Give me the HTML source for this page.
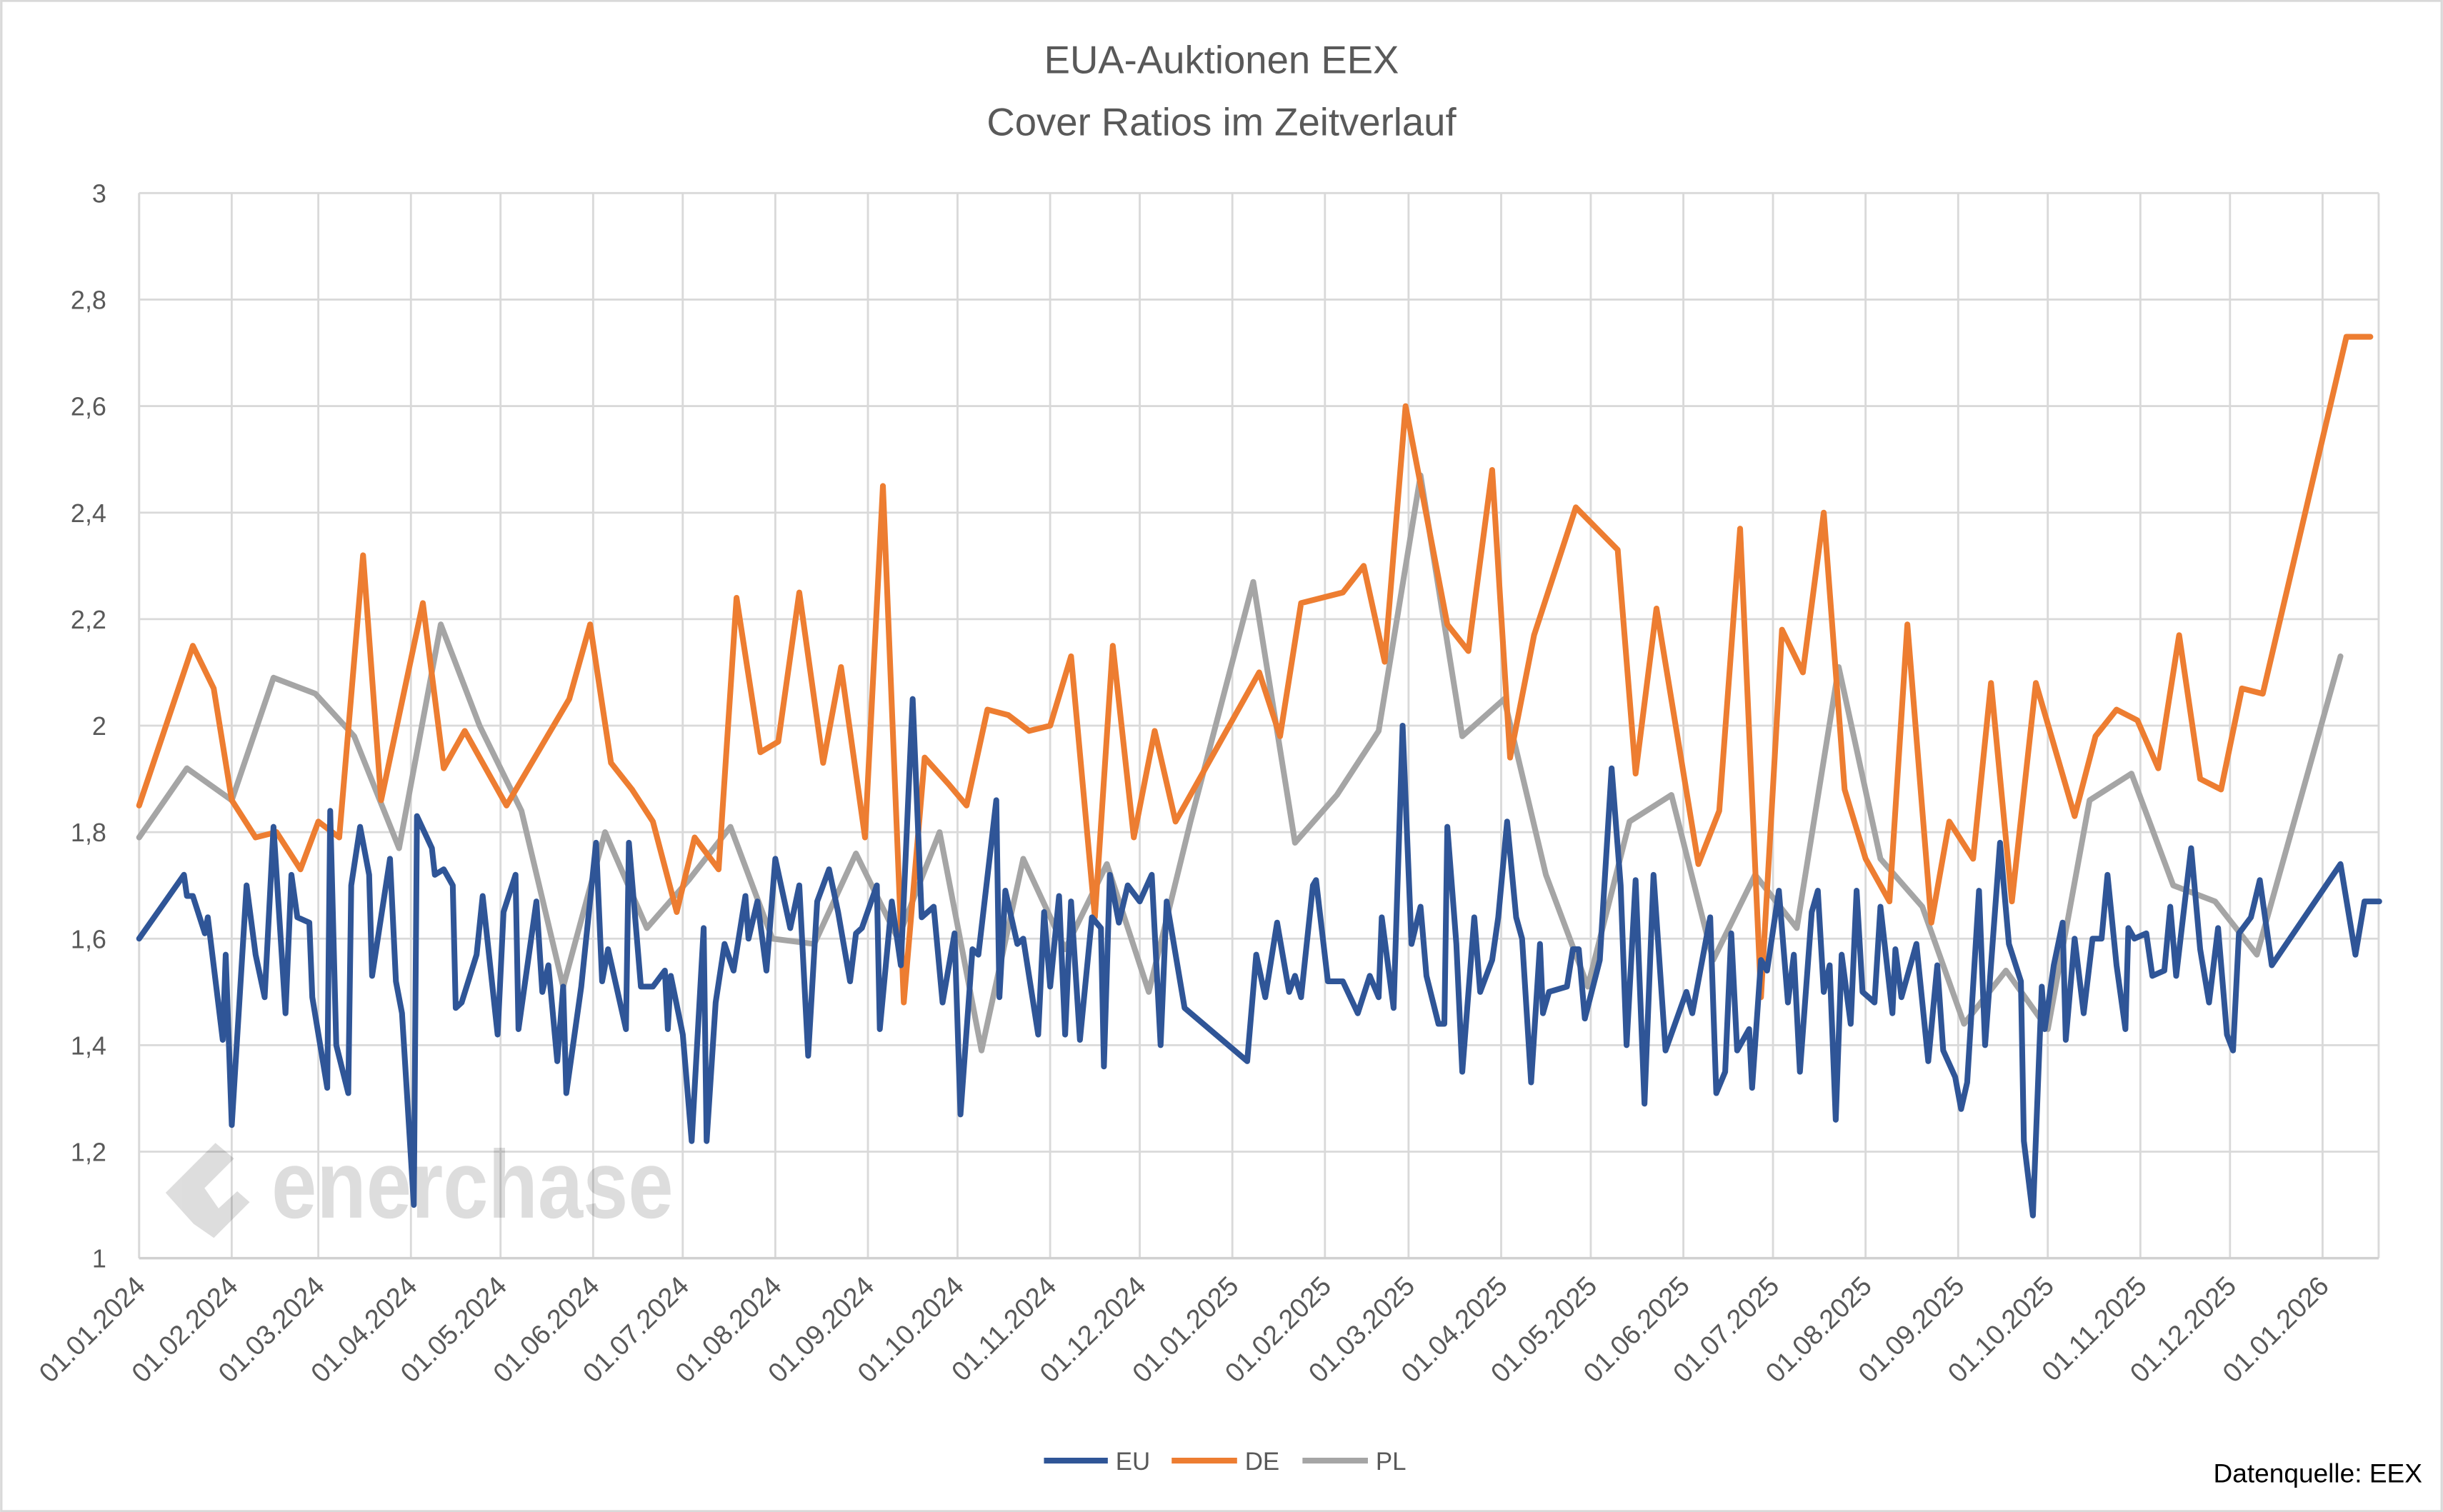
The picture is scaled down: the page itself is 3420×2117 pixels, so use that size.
<!DOCTYPE html>
<html><head><meta charset="utf-8">
<style>
html,body{margin:0;padding:0;background:#fff;}
svg{display:block;font-family:"Liberation Sans",sans-serif;}
</style></head>
<body>
<svg id="chart" width="3420" height="2117" viewBox="0 0 1568 971" xmlns="http://www.w3.org/2000/svg">
<rect x="0.5" y="0.5" width="1567" height="970" fill="#fff" stroke="#d9d9d9" stroke-width="1.5"/>
<text x="784" y="47" text-anchor="middle" font-size="25" fill="#595959">EUA-Auktionen EEX</text>
<text x="784" y="87" text-anchor="middle" font-size="25" fill="#595959">Cover Ratios im Zeitverlauf</text>
<g id="grid"></g>
<g id="watermark" opacity="0.13">
<path d="M124 786 L106 766 L138 734 L150 744 L131 763 L140 776 L152 765 L160 772 L137 795 Z" fill="#000"/>
<text x="174" y="782" font-size="62" font-weight="bold" fill="#000" textLength="258" lengthAdjust="spacingAndGlyphs">enerchase</text>
</g>
<g id="series"></g>
<g id="axes"></g>
<g>
<line x1="670" y1="938" x2="711" y2="938" stroke="#2f5597" stroke-width="3.7"/>
<text x="716" y="944" font-size="16" fill="#595959">EU</text>
<line x1="752" y1="938" x2="794" y2="938" stroke="#ed7d31" stroke-width="3.7"/>
<text x="799" y="944" font-size="16" fill="#595959">DE</text>
<line x1="836" y1="938" x2="878" y2="938" stroke="#a5a5a5" stroke-width="3.7"/>
<text x="883" y="944" font-size="16" fill="#595959">PL</text>
</g>
<text x="1555" y="952" text-anchor="end" font-size="17" fill="#000">Datenquelle: EEX</text>
</svg>
<script>
// days since 01.01.2024
const yTicks = [1,1.2,1.4,1.6,1.8,2,2.2,2.4,2.6,2.8,3];
const yTickLabels = ["1","1,2","1,4","1,6","1,8","2","2,2","2,4","2,6","2,8","3"];
const monthLabels = ["01.01.2024","01.02.2024","01.03.2024","01.04.2024","01.05.2024","01.06.2024","01.07.2024","01.08.2024","01.09.2024","01.10.2024","01.11.2024","01.12.2024","01.01.2025","01.02.2025","01.03.2025","01.04.2025","01.05.2025","01.06.2025","01.07.2025","01.08.2025","01.09.2025","01.10.2025","01.11.2025","01.12.2025","01.01.2026"];
const deDays = [0,18,25,31,39,46,54,60,67,75,81,95,102,109,123,144,151,158,165,172,180,186,194,200,208,214,221,229,235,243,249,256,263,271,277,284,291,298,305,312,320,326,333,340,347,375,382,389,403,410,417,424,438,445,453,459,467,481,495,501,508,522,529,536,543,550,557,564,571,578,586,592,600,606,614,620,627,635,648,655,662,669,676,683,690,697,704,711,739,747];
const deValues = [1.85,2.15,2.07,1.86,1.79,1.80,1.73,1.82,1.79,2.32,1.86,2.23,1.92,1.99,1.85,2.05,2.19,1.93,1.88,1.82,1.65,1.79,1.73,2.24,1.95,1.97,2.25,1.93,2.11,1.79,2.45,1.48,1.94,1.89,1.85,2.03,2.02,1.99,2.00,2.13,1.64,2.15,1.79,1.99,1.82,2.10,1.98,2.23,2.25,2.30,2.12,2.60,2.19,2.14,2.48,1.94,2.17,2.41,2.33,1.91,2.22,1.74,1.84,2.37,1.49,2.18,2.10,2.40,1.88,1.75,1.67,2.19,1.63,1.82,1.75,2.08,1.67,2.08,1.83,1.98,2.03,2.01,1.92,2.17,1.90,1.88,2.07,2.06,2.73,2.73];
const plDays = [0,16,31,45,59,72,87,101,114,128,142,156,170,184,198,212,226,240,254,268,282,296,310,324,338,352,373,387,401,415,429,443,457,471,485,499,513,527,541,555,569,583,597,611,625,639,653,667,681,695,709,737];
const plValues = [1.79,1.92,1.86,2.09,2.06,1.98,1.77,2.19,2.00,1.84,1.51,1.80,1.62,1.71,1.81,1.60,1.59,1.76,1.60,1.80,1.39,1.75,1.58,1.74,1.50,1.82,2.27,1.78,1.87,1.99,2.47,1.98,2.05,1.72,1.51,1.82,1.87,1.56,1.72,1.62,2.11,1.75,1.66,1.44,1.54,1.43,1.86,1.91,1.70,1.67,1.57,2.13];
const euDays = [0,15,16,18,22,23,28,29,31,36,39,42,45,49,51,53,57,58,63,64,66,70,71,74,77,78,84,86,88,92,93,98,99,102,105,106,108,113,115,120,122,126,127,133,135,137,140,142,143,148,153,155,157,163,164,168,172,176,177,178,182,185,189,190,193,196,199,203,204,207,210,213,218,221,224,227,231,234,238,240,242,247,248,252,255,259,262,266,269,273,275,279,281,287,288,290,294,296,301,303,305,308,310,312,315,319,322,323,325,328,331,335,339,342,344,350,371,374,377,381,385,387,389,393,394,398,403,408,412,415,416,420,423,426,429,431,435,437,438,441,443,447,449,453,455,458,461,463,466,469,470,472,478,480,482,484,489,493,496,498,501,504,507,511,518,520,526,528,531,533,535,539,540,543,545,549,552,554,556,560,562,564,566,568,570,573,575,577,581,583,587,588,590,595,599,602,604,608,610,612,616,618,623,626,630,631,634,637,638,641,644,645,648,651,654,657,659,662,665,666,668,672,674,678,680,682,687,690,693,696,699,701,703,707,710,714,737,742,745,750];
const euValues = [1.60,1.72,1.68,1.68,1.61,1.64,1.41,1.57,1.25,1.70,1.57,1.49,1.81,1.46,1.72,1.64,1.63,1.49,1.32,1.84,1.40,1.31,1.70,1.81,1.72,1.53,1.75,1.52,1.46,1.10,1.83,1.77,1.72,1.73,1.70,1.47,1.48,1.57,1.68,1.42,1.65,1.72,1.43,1.67,1.50,1.55,1.37,1.51,1.31,1.51,1.78,1.52,1.58,1.43,1.78,1.51,1.51,1.54,1.43,1.53,1.42,1.22,1.62,1.22,1.48,1.59,1.54,1.68,1.60,1.67,1.54,1.75,1.62,1.70,1.38,1.67,1.73,1.65,1.52,1.61,1.62,1.70,1.43,1.67,1.55,2.05,1.64,1.66,1.48,1.61,1.27,1.58,1.57,1.86,1.49,1.69,1.59,1.60,1.42,1.65,1.51,1.68,1.42,1.67,1.41,1.64,1.62,1.36,1.72,1.63,1.70,1.67,1.72,1.40,1.67,1.47,1.37,1.57,1.49,1.63,1.50,1.53,1.49,1.70,1.71,1.52,1.52,1.46,1.53,1.49,1.64,1.47,2.00,1.59,1.66,1.53,1.44,1.44,1.81,1.59,1.35,1.64,1.50,1.56,1.64,1.82,1.64,1.60,1.33,1.59,1.46,1.50,1.51,1.58,1.58,1.45,1.56,1.92,1.70,1.40,1.71,1.29,1.72,1.39,1.50,1.46,1.64,1.31,1.35,1.61,1.39,1.43,1.32,1.56,1.54,1.69,1.48,1.57,1.35,1.65,1.69,1.50,1.55,1.26,1.57,1.44,1.69,1.50,1.48,1.66,1.46,1.58,1.49,1.59,1.37,1.55,1.39,1.34,1.28,1.33,1.69,1.40,1.78,1.59,1.52,1.22,1.08,1.51,1.43,1.55,1.63,1.41,1.60,1.46,1.60,1.60,1.72,1.55,1.43,1.62,1.60,1.61,1.53,1.54,1.66,1.53,1.77,1.58,1.48,1.62,1.42,1.39,1.61,1.64,1.71,1.55,1.74,1.57,1.67,1.67];

const NS = "http://www.w3.org/2000/svg";
const X0 = 89, X1 = 1527, PXDAY = (1491 - 89) / 731, YTOP = 124, YBOT = 808;
const xScale = d => X0 + d * PXDAY;
const yScale = v => YBOT - (v - 1) / 2 * (YBOT - YTOP);
function mk(tag, attrs, parent) {
  const el = document.createElementNS(NS, tag);
  for (const k in attrs) el.setAttribute(k, attrs[k]);
  parent.appendChild(el);
  return el;
}
const grid = document.getElementById('grid');
const axes = document.getElementById('axes');
const series = document.getElementById('series');

yTicks.forEach((t, i) => {
  const y = yScale(t);
  const gl = mk('line', {x1: X0, x2: X1, y1: y, y2: y, stroke: '#d9d9d9', 'stroke-width': 1.3}, grid);
  
  
  const tx = mk('text', {x: 68, y: y + 6, 'text-anchor': 'end', 'font-size': 16.5, fill: '#595959'}, axes);
  tx.textContent = yTickLabels[i];
  
  
});
const base = Date.UTC(2024, 0, 1);
monthLabels.forEach(lbl => {
  const p = lbl.split('.');
  const d = (Date.UTC(+p[2], +p[1] - 1, 1) - base) / 86400000;
  const x = xScale(d);
  const gl = mk('line', {x1: x, x2: x, y1: YTOP, y2: YBOT, stroke: '#d9d9d9', 'stroke-width': 1.3}, grid);
  
  
  const tx = mk('text', {x: x + 5, y: 827, 'text-anchor': 'end', 'font-size': 17.5, fill: '#595959', transform: `rotate(-45 ${x + 5} 827)`}, axes);
  tx.textContent = lbl;
  
  
});
mk('line', {x1: X0, x2: X0, y1: YTOP, y2: YBOT, stroke: '#d9d9d9', 'stroke-width': 1.3}, grid);
mk('line', {x1: X1, x2: X1, y1: YTOP, y2: YBOT, stroke: '#d9d9d9', 'stroke-width': 1.3}, grid);
const ax = mk('line', {x1: X0, x2: X1, y1: YBOT, y2: YBOT, stroke: '#d0d0d0', 'stroke-width': 1.6}, axes);



function drawLine(days, vals, color, name) {
  const pts = days.map((d, i) => xScale(d).toFixed(1) + ',' + yScale(vals[i]).toFixed(1)).join(' ');
  const pl = mk('polyline', {points: pts, fill: 'none', stroke: color, 'stroke-width': 3.7, 'stroke-linejoin': 'round', 'stroke-linecap': 'round'}, series);
  
  
}
drawLine(plDays, plValues, '#a5a5a5', 'pl-line');
drawLine(deDays, deValues, '#ed7d31', 'de-line');
drawLine(euDays, euValues, '#2f5597', 'eu-line');
</script>
</body></html>
